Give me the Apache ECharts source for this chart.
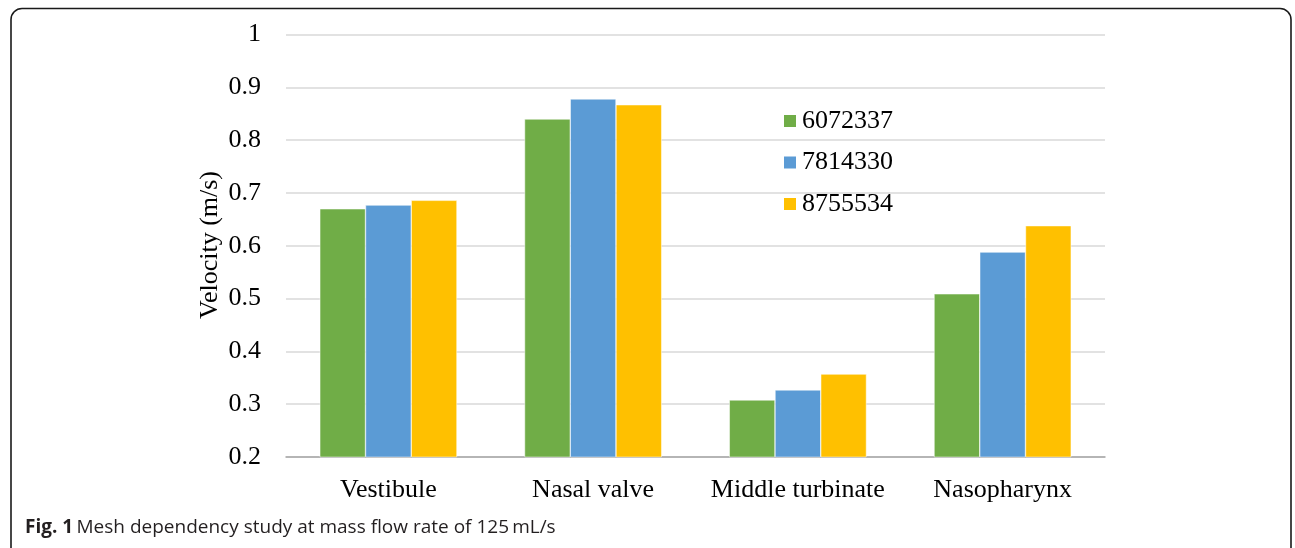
<!DOCTYPE html>
<html>
<head>
<meta charset="utf-8">
<script src="https://cdn.jsdelivr.net/npm/echarts@6/dist/echarts.min.js"></script>
<style>
  html, body { margin: 0; padding: 0; background: #fff; }
  #chart { width: 1295px; height: 548px; }
</style>
</head>
<body>
<div id="chart"></div>
<script>
// Regions of the nasal airway
const categories = ['Vestibule', 'Nasal valve', 'Middle turbinate', 'Nasopharynx'];

// Mean velocity (m/s) for each mesh size (number of cells)
const meshNames = ['6072337', '7814330', '8755534'];
const mesh6072337 = [0.670, 0.840, 0.308, 0.509];
const mesh7814330 = [0.677, 0.878, 0.327, 0.588];
const mesh8755534 = [0.686, 0.867, 0.357, 0.638];

const yTicks = { min: 0.2, max: 1, interval: 0.1 };
const colors = ['#70AD47', '#5B9BD5', '#FFC000'];
const serif = '"Liberation Serif", "Times New Roman", serif';
const sans = '"Open Sans", "Noto Sans", sans-serif';

const chart = echarts.init(document.getElementById('chart'), null, { renderer: 'canvas' });

const seriesData = [mesh6072337, mesh7814330, mesh8755534];

chart.setOption({
  animation: false,
  backgroundColor: '#fff',
  color: colors,
  grid: { left: 286, right: 190, top: 34.5, bottom: 91, containLabel: false },
  legend: {
    orient: 'vertical',
    left: 782,
    top: 108,
    padding: 0,
    itemWidth: 14,
    itemHeight: 14,
    itemGap: 15.5,
    icon: 'rect',
    data: meshNames,
    textStyle: { fontFamily: serif, fontSize: 26, lineHeight: 26, color: '#000' }
  },
  xAxis: {
    type: 'category',
    data: categories,
    axisLine: { lineStyle: { color: '#a6a6a6', width: 1.5 } },
    axisTick: { show: false },
    axisLabel: { interval: 0, fontFamily: serif, fontSize: 26, color: '#000', margin: 20 }
  },
  yAxis: {
    type: 'value',
    min: yTicks.min,
    max: yTicks.max,
    interval: yTicks.interval,
    axisLine: { show: false },
    axisTick: { show: false },
    axisLabel: { fontFamily: serif, fontSize: 26, color: '#000', margin: 25 },
    splitLine: { lineStyle: { color: '#d9d9d9', width: 1.5 } }
  },
  series: meshNames.map((name, i) => ({
    name: name,
    type: 'bar',
    data: seriesData[i],
    barGap: '0%',
    barCategoryGap: '33%',
    itemStyle: { color: colors[i], borderColor: '#fff', borderWidth: 0.5 }
  })),
  graphic: [
    {
      type: 'rect',
      shape: { x: 11, y: 8.5, width: 1280, height: 560, r: 11 },
      style: { fill: 'none', stroke: '#1a1a1a', lineWidth: 1.6 },
      silent: true
    },
    {
      // y-axis title, placed beside the tick labels
      type: 'text',
      x: 210,
      y: 245,
      rotation: Math.PI / 2,
      style: {
        text: 'Velocity (m/s)',
        fontFamily: serif,
        fontSize: 26,
        fill: '#000',
        align: 'center',
        verticalAlign: 'middle'
      },
      silent: true
    },
    {
      type: 'text',
      left: 25,
      top: 518,
      style: {
        rich: {
          b: { fontFamily: sans, fontWeight: 'bold', fontSize: 19, fill: '#231f20' },
          r: { fontFamily: sans, fontSize: 19, fill: '#231f20' }
        },
        text: '{b|Fig. 1} {r|Mesh dependency study at mass flow rate of 125\u2009mL/s}'
      }
    }
  ]
});
</script>
</body>
</html>
